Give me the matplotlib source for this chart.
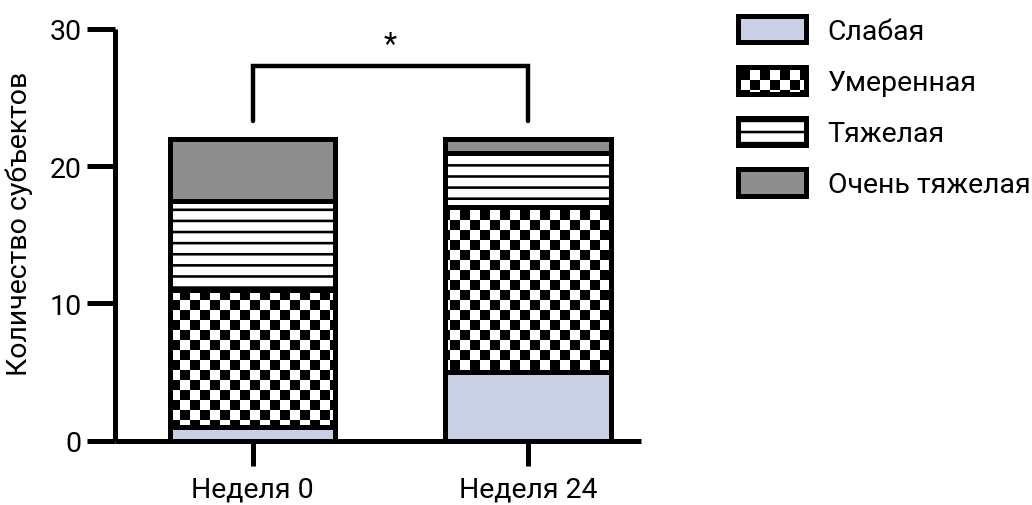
import warnings
warnings.filterwarnings("ignore")
import numpy as np
import matplotlib
matplotlib.use("Agg")
import matplotlib.pyplot as plt
import matplotlib.hatch as mhatch
from matplotlib.path import Path

# ---------------- data ----------------
categories = ['Неделя 0', 'Неделя 24']
severity_labels = ['Слабая', 'Умеренная', 'Тяжелая', 'Очень тяжелая']
mild = [1, 5]
moderate = [10, 12]
severe = [6.5, 4]
very_severe = [4.5, 1]
y_ticks = [0, 10, 20, 30]
y_label = 'Количество субъектов'
significance = '*'

# ------------- custom hatches -------------
class CheckerHatch(mhatch.HatchPatternBase):
    N = 10
    def __init__(self, hatch, density):
        self.on = 'k' in (hatch or '')
        self.num_vertices = (self.N * self.N // 2) * 5 if self.on else 0
    def set_vertices_and_codes(self, vertices, codes):
        v = []
        c = []
        s = 1.0 / self.N
        for i in range(self.N):
            for j in range(self.N):
                if (i + j) % 2 == 0:
                    x0, y0 = i * s, j * s
                    v += [[x0, y0], [x0 + s, y0], [x0 + s, y0 + s], [x0, y0 + s], [x0, y0]]
                    c += [Path.MOVETO, Path.LINETO, Path.LINETO, Path.LINETO, Path.CLOSEPOLY]
        vertices[:] = np.array(v)
        codes[:] = np.array(c)

class StripeHatch(mhatch.HatchPatternBase):
    N = 9
    T = 0.026
    def __init__(self, hatch, density):
        self.on = 's' in (hatch or '')
        self.num_vertices = self.N * 5 if self.on else 0
    def set_vertices_and_codes(self, vertices, codes):
        v = []
        c = []
        for k in range(self.N):
            y0 = k / self.N
            v += [[0, y0], [1, y0], [1, y0 + self.T], [0, y0 + self.T], [0, y0]]
            c += [Path.MOVETO, Path.LINETO, Path.LINETO, Path.LINETO, Path.CLOSEPOLY]
        vertices[:] = np.array(v)
        codes[:] = np.array(c)

mhatch._hatch_types.append(CheckerHatch)
mhatch._hatch_types.append(StripeHatch)

plt.rcParams['font.family'] = ['Roboto', 'DejaVu Sans']
plt.rcParams['hatch.linewidth'] = 0.0
plt.rcParams['hatch.color'] = 'black'

FS = 20.5
fig = plt.figure(figsize=(10.32, 5.06), dpi=100)
ax = fig.add_axes([115 / 1032, (506 - 441.7) / 506, 526 / 1032, 411.7 / 506])

x = np.arange(len(categories))
width = 0.6
lw = 3.6
styles = [
    dict(facecolor='#c9cfe4', hatch=None),
    dict(facecolor='white', hatch='k'),
    dict(facecolor='white', hatch='s'),
    dict(facecolor='#8e8e8e', hatch=None),
]
series = [mild, moderate, severe, very_severe]
bottom = np.zeros(len(categories))
handles = []
for vals, st, lab in zip(series, styles, severity_labels):
    b = ax.bar(x, vals, width, bottom=bottom, facecolor=st['facecolor'],
               hatch=st['hatch'], edgecolor='black', linewidth=lw, label=lab,
               zorder=3, joinstyle='miter')
    handles.append(b)
    bottom = bottom + np.array(vals)

ax.set_xlim(-0.5, 1.41)
ax.set_ylim(0, 30)
ax.set_yticks(y_ticks)
ax.set_xticks(x)
ax.set_xticklabels(categories)
for s in ['top', 'right']:
    ax.spines[s].set_visible(False)
for s in ['left', 'bottom']:
    ax.spines[s].set_linewidth(lw)
    ax.spines[s].set_capstyle('butt')
ax.tick_params(axis='y', length=20, width=lw, labelsize=FS, pad=4)
ax.tick_params(axis='x', length=18, width=lw, labelsize=FS, pad=7)
ax.set_ylabel(y_label, fontsize=FS)
ax.yaxis.set_label_coords(-0.156, 0.53)

# significance bracket
yb, yd = 27.3, 23.3
ax.plot([x[0], x[0], x[1], x[1]], [yd, yb, yb, yd], color='black', lw=3.2,
        clip_on=False, solid_joinstyle='miter', solid_capstyle='round', zorder=4)
ax.text((x[0] + x[1]) / 2, 28.9, significance, ha='center', va='center', fontsize=22)

leg = fig.legend(handles=handles, labels=severity_labels, loc='upper left',
                 bbox_to_anchor=(738 / 1032, 1 - 17 / 506), frameon=False,
                 fontsize=FS, handlelength=2.4, handleheight=1.05,
                 handletextpad=0.75, labelspacing=0.78, borderpad=0,
                 borderaxespad=0)

fig.savefig('out.png', dpi=100)
